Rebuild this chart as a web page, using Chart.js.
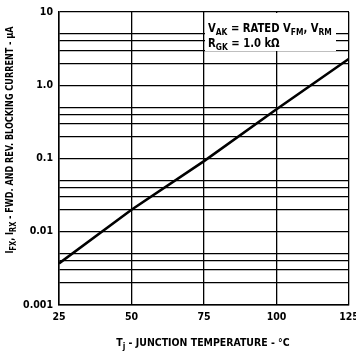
<!DOCTYPE html>
<html>
<head>
<meta charset="utf-8">
<script src="https://cdn.jsdelivr.net/npm/chart.js@4.4.0/dist/chart.umd.min.js"></script>
<style>
  html, body { margin: 0; padding: 0; background: #fff; }
  #wrap { width: 356px; height: 356px; }
</style>
</head>
<body>
<div id="wrap"><canvas id="graphe"></canvas></div>
<script>
// donnees
const temperatures = [25, 50, 75, 100, 125];
const courantBlocage = [0.0037, 0.02, 0.092, 0.47, 2.3];

// graduations de l'axe y (log) : lignes a 1,2,3,4,5 par decade
const ticksY = [0.001, 0.002, 0.003, 0.004, 0.005,
                0.01, 0.02, 0.03, 0.04, 0.05,
                0.1, 0.2, 0.3, 0.4, 0.5,
                1, 2, 3, 4, 5, 10];
const labelsY = { 0.001: "0.001", 0.01: "0.01", 0.1: "0.1", 1: "1.0", 10: "10" };
const ticksX = [25, 50, 75, 100, 125];

// textes avec indices : [texte, indice ?]
const titreY = [["I", false], ["FX", true], [", I", false], ["RX", true], [" - FWD. AND REV. BLOCKING CURRENT - \u00b5A", false]];
const titreX = [["T", false], ["j", true], [" - JUNCTION TEMPERATURE - \u00b0C", false]];
const note1 = [["V", false], ["AK", true], [" = RATED V", false], ["FM", true], [", V", false], ["RM", true]];
const note2 = [["R", false], ["GK", true], [" = 1.0 k\u03a9", false]];

const POLICE = '"Liberation Sans Narrow", "DejaVu Sans Condensed", sans-serif';

function largeur(ctx, segs, t, s) {
  let w = 0;
  for (const [txt, sub] of segs) {
    ctx.font = "bold " + (sub ? s : t) + "px " + POLICE;
    w += ctx.measureText(txt).width;
  }
  return w;
}
// k = compression horizontale (police tres etroite de l'original)
function ecrire(ctx, segs, x, y, t, s, k) {
  ctx.save();
  ctx.translate(x, y);
  ctx.scale(k, 1);
  let px = 0;
  for (const [txt, sub] of segs) {
    ctx.font = "bold " + (sub ? s : t) + "px " + POLICE;
    ctx.fillText(txt, px, sub ? 3 : 0);
    px += ctx.measureText(txt).width;
  }
  ctx.restore();
}

const textes = {
  id: "textes",
  afterDraw(chart) {
    const ctx = chart.ctx;
    const a = chart.chartArea;
    const sx = chart.scales.x;
    ctx.save();
    ctx.textBaseline = "alphabetic";
    ctx.textAlign = "left";

    // cadre de la note (efface la grille)
    const x0 = sx.getPixelForValue(75) + 1;
    ctx.fillStyle = "#fff";
    ctx.fillRect(x0, a.top + 1, 131, 38);
    ctx.fillStyle = "#000";
    ecrire(ctx, note1, x0 + 3, a.top + 20, 12, 9, 0.93);
    ecrire(ctx, note2, x0 + 3, a.top + 35, 12, 9, 0.93);

    // titre axe x
    const wx = largeur(ctx, titreX, 11, 9) * 0.95;
    ecrire(ctx, titreX, 203 - wx / 2, 346, 11, 9, 0.95);

    // titre axe y (tourne)
    const wy = largeur(ctx, titreY, 11, 9) * 0.82;
    ctx.translate(13, 140);
    ctx.rotate(-Math.PI / 2);
    ecrire(ctx, titreY, -wy / 2, 0, 11, 9, 0.82);
    ctx.restore();
  }
};

new Chart(document.getElementById("graphe"), {
  type: "line",
  data: {
    labels: temperatures,
    datasets: [{
      data: courantBlocage,
      borderColor: "#000",
      borderWidth: 2.6,
      pointRadius: 0,
      tension: 0
    }]
  },
  options: {
    responsive: true,
    maintainAspectRatio: false,
    animation: false,
    layout: { padding: { top: 12, right: 7, left: 0, bottom: 0 } },
    plugins: { legend: { display: false }, tooltip: { enabled: false } },
    scales: {
      x: {
        type: "linear",
        min: 25, max: 125,
        afterBuildTicks: s => { s.ticks = ticksX.map(v => ({ value: v })); },
        afterFit: s => { s.height = 51; s.paddingRight = 0; s.paddingLeft = 0; },
        grid: { color: "#000", lineWidth: 1.3, drawTicks: false },
        border: { color: "#000", width: 1.5 },
        ticks: { padding: 6, color: "#000", maxRotation: 0,
                 font: { family: POLICE, size: 10.5, weight: "bold" } }
      },
      y: {
        type: "logarithmic",
        min: 0.001, max: 10,
        afterBuildTicks: s => { s.ticks = ticksY.map(v => ({ value: v })); },
        afterFit: s => { s.width = 59; s.paddingTop = 0; s.paddingBottom = 0; },
        grid: { color: "#000", lineWidth: 1.3, drawTicks: false },
        border: { color: "#000", width: 1.5 },
        ticks: { padding: 6, color: "#000", autoSkip: false,
                 callback: v => labelsY[v] || "",
                 font: { family: POLICE, size: 10.5, weight: "bold" } }
      }
    }
  },
  plugins: [textes]
});
</script>
</body>
</html>
